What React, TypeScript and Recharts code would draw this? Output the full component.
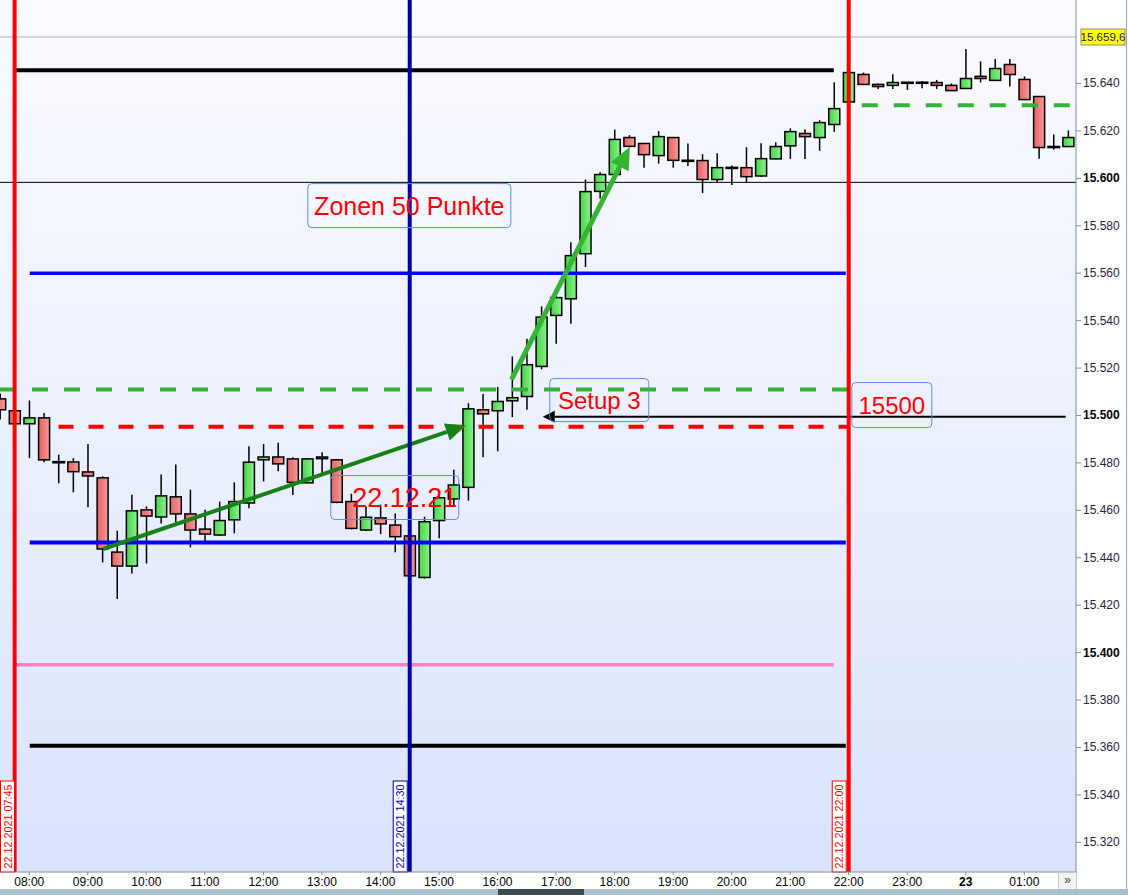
import {
  ComposedChart, Bar, XAxis, YAxis, ReferenceLine, ReferenceDot, ReferenceArea
} from 'recharts'

// 15-min candles, 22.12.2021 07:30 -> 23.12.2021 01:45
const times = [
  '07:30', '07:45', '08:00', '08:15', '08:30', '08:45', '09:00', '09:15', '09:30', '09:45',
  '10:00', '10:15', '10:30', '10:45', '11:00', '11:15', '11:30', '11:45', '12:00', '12:15',
  '12:30', '12:45', '13:00', '13:15', '13:30', '13:45', '14:00', '14:15', '14:30', '14:45',
  '15:00', '15:15', '15:30', '15:45', '16:00', '16:15', '16:30', '16:45', '17:00', '17:15',
  '17:30', '17:45', '18:00', '18:15', '18:30', '18:45', '19:00', '19:15', '19:30', '19:45',
  '20:00', '20:15', '20:30', '20:45', '21:00', '21:15', '21:30', '21:45', '22:00', '22:15',
  '22:30', '22:45', '23:00', '23:15', '23:30', '23:45', '00:00', '00:15', '00:30', '00:45',
  '01:00', '01:15', '01:30', '01:45',
]
const opens = [
  15507.0, 15502.0, 15496.5, 15499.0, 15480.3, 15480.4, 15476.2, 15473.7, 15442.4, 15436.5,
  15460.2, 15457.2, 15465.7, 15458.5, 15452.1, 15449.6, 15456.0, 15463.1, 15481.3, 15482.5,
  15481.7, 15471.6, 15481.8, 15481.3, 15463.7, 15451.7, 15456.8, 15453.8, 15449.2, 15431.7,
  15455.7, 15464.8, 15469.7, 15502.4, 15502.0, 15506.2, 15508.0, 15520.7, 15542.2, 15549.2,
  15568.2, 15594.5, 15601.6, 15617.2, 15614.7, 15609.6, 15617.2, 15607.4, 15607.5, 15599.5,
  15604.4, 15604.5, 15601.0, 15608.2, 15613.7, 15618.9, 15617.2, 15622.7, 15632.2, 15643.8,
  15639.6, 15639.2, 15640.3, 15640.3, 15640.4, 15639.2, 15637.9, 15643.0, 15641.3, 15648.0,
  15641.7, 15634.5, 15613.2, 15613.4,
]
const highs = [
  15509.3, 15502.3, 15506.3, 15501.1, 15483.5, 15482.0, 15488.0, 15474.4, 15451.4, 15466.6,
  15461.6, 15475.1, 15479.3, 15468.7, 15460.3, 15463.7, 15471.8, 15487.0, 15488.0, 15488.5,
  15482.4, 15482.0, 15484.5, 15481.7, 15467.0, 15461.6, 15462.4, 15458.7, 15450.5, 15457.3,
  15468.3, 15477.1, 15505.2, 15509.1, 15512.0, 15524.9, 15532.4, 15546.0, 15552.0, 15573.0,
  15599.5, 15602.6, 15620.6, 15618.2, 15614.7, 15619.9, 15617.2, 15614.7, 15610.2, 15610.6,
  15605.4, 15613.1, 15614.8, 15615.2, 15621.1, 15620.7, 15624.5, 15640.5, 15645.0, 15644.6,
  15640.0, 15643.9, 15640.6, 15641.0, 15641.5, 15640.0, 15654.5, 15649.3, 15650.3, 15650.3,
  15643.0, 15634.5, 15618.5, 15620.2,
]
const lows = [
  15498.3, 15496.3, 15482.0, 15480.3, 15471.4, 15467.6, 15461.3, 15438.0, 15422.6, 15433.4,
  15437.6, 15454.5, 15455.0, 15444.4, 15446.8, 15449.2, 15450.3, 15460.9, 15472.2, 15476.5,
  15466.5, 15471.5, 15474.7, 15463.0, 15452.0, 15451.3, 15450.0, 15442.3, 15432.0, 15431.3,
  15448.2, 15462.0, 15464.1, 15482.4, 15484.9, 15499.3, 15502.4, 15519.5, 15530.3, 15538.7,
  15562.6, 15591.5, 15601.0, 15613.0, 15604.5, 15606.2, 15604.5, 15605.2, 15593.8, 15598.5,
  15597.2, 15598.3, 15600.6, 15608.0, 15608.2, 15608.2, 15611.6, 15619.6, 15632.0, 15639.6,
  15637.7, 15637.7, 15637.3, 15638.0, 15637.7, 15637.0, 15637.9, 15640.4, 15641.3, 15638.7,
  15633.0, 15608.3, 15612.1, 15613.4,
]
const closes = [
  15502.4, 15496.5, 15499.0, 15481.3, 15480.3, 15476.3, 15474.5, 15443.7, 15436.5, 15459.8,
  15457.6, 15466.1, 15458.5, 15451.7, 15450.0, 15455.7, 15463.7, 15480.3, 15482.5, 15479.6,
  15471.8, 15481.7, 15482.5, 15463.4, 15452.4, 15457.1, 15454.3, 15448.9, 15432.4, 15455.2,
  15465.3, 15470.7, 15502.8, 15500.7, 15505.9, 15507.5, 15521.4, 15541.5, 15549.7, 15567.4,
  15594.4, 15601.6, 15616.4, 15613.5, 15610.0, 15617.6, 15607.6, 15607.4, 15599.5, 15604.5,
  15604.4, 15600.7, 15608.3, 15613.4, 15619.7, 15617.6, 15623.5, 15629.4, 15644.6, 15639.6,
  15638.7, 15640.4, 15640.3, 15640.3, 15639.2, 15637.0, 15642.1, 15642.1, 15646.3, 15643.8,
  15633.2, 15613.0, 15613.2, 15617.2,
]

const priceTicks = [15320, 15340, 15360, 15380, 15400, 15420, 15440, 15460, 15480, 15500, 15520, 15540, 15560, 15580, 15600, 15620, 15640]
const boldTicks = [15400, 15500, 15600]
const timeTicks = [480, 540, 600, 660, 720, 780, 840, 900, 960, 1020, 1080, 1140, 1200, 1260, 1320, 1380, 1440, 1500]
const lastPrice = 15659.6

// minutes since 22.12 00:00, times after midnight roll over
const toMin = (s: string) => {
  const [h, m] = s.split(':').map(Number)
  return (h < 7 ? h + 24 : h) * 60 + m
}

const data = times.map((t, i) => ({
  t: toMin(t),
  open: opens[i], high: highs[i], low: lows[i], close: closes[i],
}))

const FONT = '"Liberation Sans", Arial, sans-serif'
const X_DOMAIN = [450, 1553]
const Y_DOMAIN = [15307.5, 15675.2]

const Candle = (p: any) => {
  const { x, y, width, height, payload } = p
  const { open, high, low, close } = payload
  const k = height / (high - low)
  const cx = x + width / 2
  const top = y + (high - Math.max(open, close)) * k
  const bot = y + (high - Math.min(open, close)) * k
  const doji = Math.abs(close - open) < 0.5
  return (
    <g>
      <line x1={cx} x2={cx} y1={y} y2={y + height} stroke="#000" strokeWidth={1.5} />
      {doji
        ? <rect x={x - 1} y={top - 1.3} width={width + 2} height={2.6} fill="#000" />
        : <rect x={x} y={top} width={width} height={Math.max(bot - top, 1)}
            fill={close > open ? 'url(#gUp)' : 'url(#gDn)'} stroke="#000" strokeWidth={1.5} />}
    </g>
  )
}

const arrow = (color: string, w: number, len: number, half: number) => (p: any) => {
  const { x1, y1, x2, y2 } = p
  const a = Math.atan2(y2 - y1, x2 - x1)
  const bx = x2 - Math.cos(a) * len
  const by = y2 - Math.sin(a) * len
  const nx = -Math.sin(a) * half
  const ny = Math.cos(a) * half
  return (
    <g>
      <line x1={x1} y1={y1} x2={bx} y2={by} stroke={color} strokeWidth={w} />
      <polygon points={`${x2},${y2} ${bx + nx},${by + ny} ${bx - nx},${by - ny}`} fill={color} />
    </g>
  )
}

const vLine = (color: string, text: string) => (p: any) => {
  const { x1, y1, y2 } = p
  const bottom = Math.max(y1, y2)
  const boxTop = bottom - 91
  const bx = Math.max(0.5, x1 - 16.5)
  const tx = bx + 7
  const ty = bottom - 45.5
  return (
    <g>
      <line x1={x1} x2={x1} y1={Math.min(y1, y2)} y2={bottom} stroke={color} strokeWidth={4} />
      <rect x={bx} y={boxTop} width={14} height={91} fill="#fff" stroke={color} strokeWidth={1} />
      <text x={tx} y={ty} transform={`rotate(-90 ${tx} ${ty})`} textAnchor="middle" dominantBaseline="central"
        fontSize={11.5} textLength={84} lengthAdjust="spacingAndGlyphs" fill={color} fontFamily={FONT}>
        {text}
      </text>
    </g>
  )
}

const priceLine = (p: any) => {
  const { x1, x2, y1 } = p
  const right = Math.max(x1, x2)
  return (
    <g>
      <line x1={Math.min(x1, x2)} x2={right} y1={y1} y2={y1} stroke="#b0b0b0" strokeWidth={1} />
      <rect x={right + 5} y={y1 - 8} width={44} height={16} fill="#ffff00" stroke="#8a8a8a" strokeWidth={1} />
      <text x={right + 27} y={y1 + 4} textAnchor="middle" fontSize={11.5} fill="#222" fontFamily={FONT}>
        {(lastPrice / 1000).toFixed(4).replace(/^(\d+\.\d{3})(\d)$/, '$1,$2')}
      </text>
    </g>
  )
}

const textBox = (text: string, w: number, h: number, size: number, dx = 0) => (p: any) => {
  const { cx, cy } = p
  return (
    <g>
      <rect x={cx - w / 2} y={cy - h / 2} width={w} height={h} rx={4} fill="none" stroke="#5b8de3" strokeWidth={1} />
      <text x={cx + dx} y={cy + size * 0.36} textAnchor="middle" fontSize={size} fill="#ff0000" fontFamily={FONT}>
        {text}
      </text>
    </g>
  )
}

const fmtPrice = (v: number) => (v / 1000).toFixed(3)

const YTick = (p: any) => {
  const { x, y, payload } = p
  const bold = boldTicks.includes(payload.value)
  return (
    <text x={x} y={y + 4} fontSize={12} fill={bold ? '#000' : '#2a1e3a'} fontWeight={bold ? 700 : 400} fontFamily={FONT}>
      {fmtPrice(payload.value)}
    </text>
  )
}

const XTick = (p: any) => {
  const { x, y, payload } = p
  const m = payload.value
  const h = Math.floor(m / 60) % 24
  const label = m === 1440 ? '23' : `${String(h).padStart(2, '0')}:00`
  return (
    <text x={x} y={y + 9} textAnchor="middle" fontSize={12} fill="#000"
      fontWeight={m === 1440 ? 700 : 400} fontFamily={FONT}>
      {label}
    </text>
  )
}

const hSeg = (a: number, b: number, v: number) => [{ x: a, y: v }, { x: b, y: v }]

export default function App() {
  return (
    <div style={{ position: 'absolute', left: 0, top: 0, width: 1128, height: 895, background: '#fff', fontFamily: FONT, overflow: 'hidden' }}>
      <ComposedChart width={1128} height={889} data={data} margin={{ top: 0, right: 0, bottom: 0, left: 0 }}>
        <defs>
          <linearGradient id="bg" x1="0" y1="0" x2="0" y2="1">
            <stop offset="0%" stopColor="#fafbff" />
            <stop offset="50%" stopColor="#ebf0fd" />
            <stop offset="100%" stopColor="#d9e3fc" />
          </linearGradient>
          <linearGradient id="gUp" x1="0" y1="0" x2="1" y2="0">
            <stop offset="0%" stopColor="#48d448" />
            <stop offset="100%" stopColor="#8cf08c" />
          </linearGradient>
          <linearGradient id="gDn" x1="0" y1="0" x2="1" y2="0">
            <stop offset="0%" stopColor="#e66262" />
            <stop offset="100%" stopColor="#f49a9a" />
          </linearGradient>
        </defs>
        <XAxis dataKey="t" type="number" domain={X_DOMAIN} allowDataOverflow ticks={timeTicks}
          height={17} tick={<XTick />} tickSize={3} stroke="#7f8fa0" interval={0} />
        <YAxis orientation="right" type="number" domain={Y_DOMAIN} allowDataOverflow ticks={priceTicks}
          width={52} tick={<YTick />} tickSize={5} tickMargin={2} stroke="#7f8fa0" interval={0} />

        <ReferenceArea x1={X_DOMAIN[0]} x2={X_DOMAIN[1]} y1={Y_DOMAIN[0]} y2={Y_DOMAIN[1]} fill="url(#bg)" fillOpacity={1} stroke="none" ifOverflow="visible" />

        <ReferenceLine y={lastPrice} shape={priceLine} ifOverflow="visible" />
        <ReferenceLine y={15598.3} stroke="#000" strokeWidth={1} ifOverflow="visible" />
        <ReferenceLine segment={hSeg(465, 1304.7, 15645.6)} stroke="#000" strokeWidth={4} ifOverflow="visible" />
        <ReferenceLine segment={hSeg(480.5, 1317, 15560)} stroke="#0000ff" strokeWidth={3.5} ifOverflow="visible" />
        <ReferenceLine segment={hSeg(450, 1320, 15511)} stroke="#35b335" strokeWidth={4} strokeDasharray="16 16" ifOverflow="visible" />
        <ReferenceLine segment={hSeg(510, 1320, 15495.3)} stroke="#ff0000" strokeWidth={4} strokeDasharray="15 15" ifOverflow="visible" />
        <ReferenceLine segment={hSeg(480.5, 1317, 15446.4)} stroke="#0000ff" strokeWidth={4} ifOverflow="visible" />
        <ReferenceLine segment={hSeg(465, 1304.7, 15394.9)} stroke="#ff80c0" strokeWidth={3.5} ifOverflow="visible" />
        <ReferenceLine segment={hSeg(480.5, 1317, 15360.7)} stroke="#000" strokeWidth={4} ifOverflow="visible" />
        <ReferenceLine segment={hSeg(1333.4, 1553, 15630.8)} stroke="#35b335" strokeWidth={4} strokeDasharray="16 16" ifOverflow="visible" />

        <Bar dataKey={(d: any) => [d.low, d.high]} barSize={11} shape={Candle} isAnimationActive={false} />

        <ReferenceLine segment={[{ x: 1542.5, y: 15499.5 }, { x: 1006.4, y: 15499.5 }]} shape={arrow('#000', 2, 12, 6)} ifOverflow="visible" />
        <ReferenceLine segment={[{ x: 555.7, y: 15443.7 }, { x: 927.5, y: 15495.8 }]} shape={arrow('#178017', 4, 20, 9)} ifOverflow="visible" />
        <ReferenceLine segment={[{ x: 974.3, y: 15515.1 }, { x: 1095.6, y: 15613.2 }]} shape={arrow('#35b335', 5, 22, 10)} ifOverflow="visible" />

        <ReferenceLine x={465} shape={vLine('#ff0000', '22.12.2021 07:45')} ifOverflow="visible" />
        <ReferenceLine x={870} shape={vLine('#0000a8', '22.12.2021 14:30')} ifOverflow="visible" />
        <ReferenceLine x={1320} shape={vLine('#ff0000', '22.12.2021 22:00')} ifOverflow="visible" />

        <ReferenceDot x={869.6} y={15588.5} shape={textBox('Zonen 50 Punkte', 203, 44, 25)} ifOverflow="visible" />
        <ReferenceDot x={1064.3} y={15506.5} shape={textBox('Setup 3', 99, 43, 24)} ifOverflow="visible" />
        <ReferenceDot x={1364.2} y={15504.4} shape={textBox('15500', 80, 45, 24)} ifOverflow="visible" />
        <ReferenceDot x={854.7} y={15465.4} shape={textBox('22.12.21', 128, 44, 27, 10)} ifOverflow="visible" />
      </ComposedChart>
      <div style={{ position: 'absolute', left: 1058, top: 872, width: 17, height: 16, border: '1px solid #c0c8d0', background: '#f4f4f4', fontSize: 12, lineHeight: '15px', textAlign: 'center', color: '#444' }}>»</div>
      <div style={{ position: 'absolute', left: 0, top: 889, width: 1128, height: 6, background: '#a9c0cd' }} />
      <div style={{ position: 'absolute', left: 498, top: 889, width: 86, height: 6, background: '#3c4a52' }} />
      <div style={{ position: 'absolute', left: 1126, top: 0, width: 1, height: 889, background: '#9aa6b2' }} />
    </div>
  )
}
